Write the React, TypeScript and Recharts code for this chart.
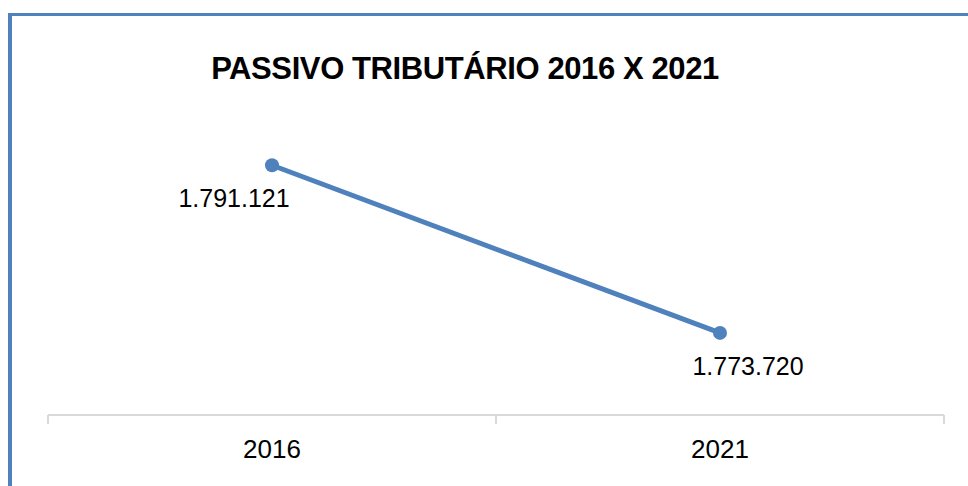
import { LineChart, Line, XAxis, YAxis, LabelList } from 'recharts';

const years = ['2016', '2021'];
const passivo = [1791121, 1773720];

const data = years.map((year, i) => ({ year, value: passivo[i] }));

const W = 968;
const H = 486;
const MARGIN = { top: 99, right: 24, bottom: 31, left: 48 };
const BLUE = '#4f81bd';
const GRID = '#d9d9d9';
const FONT = '"Liberation Sans", Arial, sans-serif';

const band = (W - MARGIN.left - MARGIN.right) / years.length;

const fmt = (v: number) => String(v).replace(/\B(?=(\d{3})+(?!\d))/g, '.');

// data labels sit below the point, Excel-style nudged left/right
const labelDx = [-38, 28];

function ValueLabel(props: any) {
  const { x, y, value, index } = props;
  return (
    <text
      x={x + labelDx[index]}
      y={y + 42}
      textAnchor="middle"
      fontFamily={FONT}
      fontSize={25}
      fill="#000"
    >
      {fmt(value)}
    </text>
  );
}

function YearTick(props: any) {
  const { x, y, payload, index } = props;
  const top = MARGIN.top + (H - MARGIN.top - MARGIN.bottom - 40);
  return (
    <g>
      <line x1={x - band / 2} x2={x - band / 2} y1={top} y2={top + 9} stroke={GRID} strokeWidth={2} />
      {index === years.length - 1 && (
        <line x1={x + band / 2} x2={x + band / 2} y1={top} y2={top + 9} stroke={GRID} strokeWidth={2} />
      )}
      <text x={x} y={top + 43} textAnchor="middle" fontFamily={FONT} fontSize={26} fill="#000">
        {payload.value}
      </text>
    </g>
  );
}

export default function App() {
  return (
    <div style={{ position: 'relative', width: W, height: H, background: '#fff', overflow: 'hidden' }}>
      <style>{`body{margin:0;overflow:hidden}`}</style>
      <div style={{ position: 'absolute', left: 8, top: 13, width: W - 8, height: 3, background: BLUE }} />
      <div style={{ position: 'absolute', left: 8, top: 13, width: 4, height: H - 13, background: BLUE }} />
      <div
        style={{
          position: 'absolute',
          left: 0,
          top: 53,
          width: 930,
          textAlign: 'center',
          fontFamily: FONT,
          fontWeight: 'bold',
          fontSize: 31,
          lineHeight: '31px',
          letterSpacing: -0.4,
          color: '#000',
        }}
      >
        PASSIVO TRIBUTÁRIO 2016 X 2021
      </div>
      <div style={{ position: 'absolute', left: 0, top: 0 }}>
        <LineChart width={W} height={H} data={data} margin={MARGIN}>
          <XAxis
            dataKey="year"
            scale="band"
            height={40}
            axisLine={{ stroke: GRID, strokeWidth: 2 }}
            tickLine={false}
            tick={<YearTick />}
            interval={0}
          />
          <YAxis hide domain={[1765200, 1798000]} />
          <Line
            dataKey="value"
            stroke={BLUE}
            strokeWidth={5}
            dot={{ r: 7, fill: BLUE, stroke: BLUE, strokeWidth: 0 }}
            isAnimationActive={false}
          >
            <LabelList dataKey="value" content={<ValueLabel />} />
          </Line>
        </LineChart>
      </div>
    </div>
  );
}
